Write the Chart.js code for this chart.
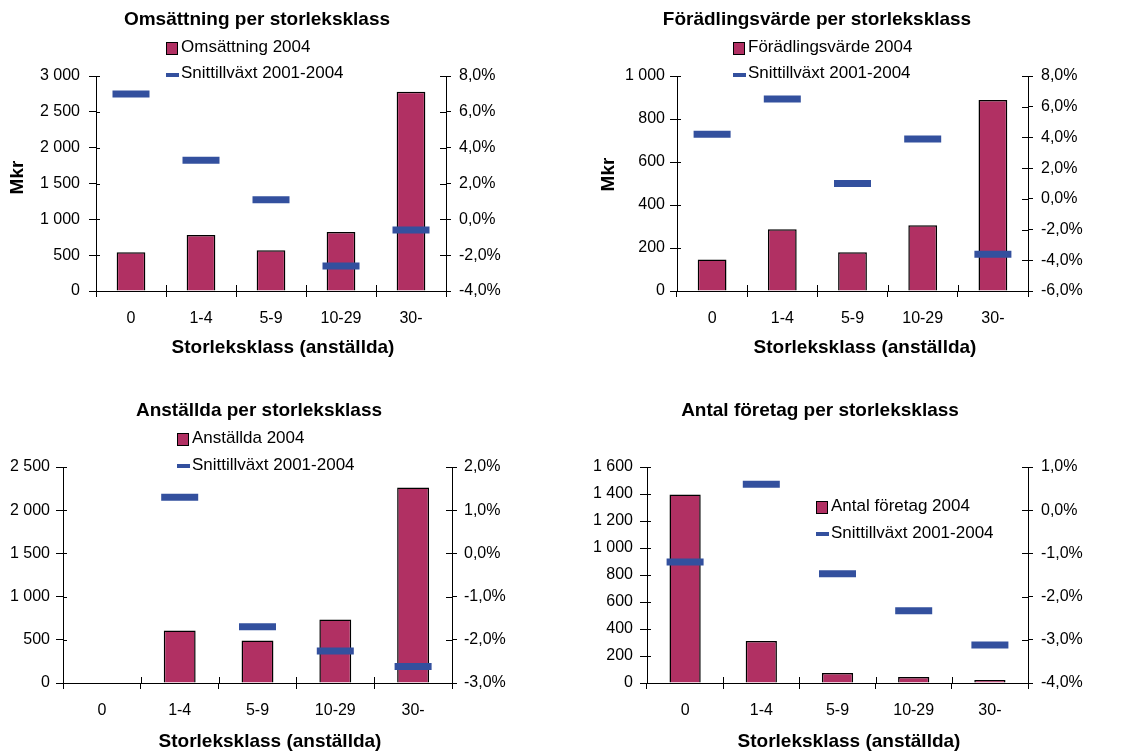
<!DOCTYPE html>
<html lang="sv">
<head>
<meta charset="utf-8">
<title>Per storleksklass</title>
<script src="https://cdn.jsdelivr.net/npm/chart.js@4.4.1/dist/chart.umd.min.js"></script>
<style>
  body { margin: 0; background: #fff; }
  #wrap { position: relative; width: 1135px; height: 756px; }
  canvas { position: absolute; }
</style>
</head>
<body>
<div id="wrap">
  <canvas id="c1" width="567" height="378" style="left:0;top:0"></canvas>
  <canvas id="c2" width="568" height="378" style="left:567px;top:0"></canvas>
  <canvas id="c3" width="567" height="378" style="left:0;top:378px"></canvas>
  <canvas id="c4" width="568" height="378" style="left:567px;top:378px"></canvas>
</div>
<script>
const categories = ["0", "1-4", "5-9", "10-29", "30-"];

const omsattning = [540, 781, 567, 823, 2780];
const omsattningVaxt = [7.0, 3.3, 1.1, -2.6, -0.6];

const foradling = [147, 287, 180, 306, 888];
const foradlingVaxt = [4.2, 6.5, 1.0, 3.9, -3.6];

const anstallda = [null, 607, 491, 735, 2264];
const anstalldaVaxt = [null, 1.3, -1.7, -2.26, -2.62];

const antalForetag = [1397, 312, 74, 45, 22];
const antalVaxt = [-1.2, 0.6, -1.47, -2.33, -3.12];

const BAR = "#B13063";
const DASH = "#33509E";
const FONT = "'Liberation Sans', Arial, sans-serif";

Chart.defaults.font.family = FONT;
Chart.defaults.color = "#000";

const thousands = v => String(v).replace(/\B(?=(\d{3})+(?!\d))/g, " ");
const percent = v => v.toFixed(1).replace(".", ",") + "%";

// titles, legend and the inner half of the tick marks
const overlay = {
    id: "overlay",
    afterDraw(chart, args, opts) {
        const ctx = chart.ctx;
        const area = chart.chartArea;
        ctx.save();

        ctx.strokeStyle = "#000";
        ctx.lineWidth = 1;
        ctx.beginPath();
        const yl = chart.scales.y, yr = chart.scales.y1;
        yl.ticks.forEach((t, i) => {
            const py = Math.round(yl.getPixelForTick(i)) + 0.5;
            ctx.moveTo(area.left, py);
            ctx.lineTo(area.left + 4, py);
        });
        yr.ticks.forEach((t, i) => {
            const py = Math.round(yr.getPixelForTick(i)) + 0.5;
            ctx.moveTo(area.right - 6, py);
            ctx.lineTo(area.right, py);
        });
        const n = categories.length;
        for (let i = 0; i <= n; i++) {
            const px = Math.round(area.left + i * area.width / n) + 0.5;
            ctx.moveTo(px, area.bottom);
            ctx.lineTo(px, area.bottom - 6);
        }
        ctx.stroke();

        const lg = opts.legend;
        const ds = chart.data.datasets;
        ctx.fillStyle = BAR;
        ctx.fillRect(lg.x, lg.boxY, 11, 12);
        ctx.strokeRect(lg.x + 0.5, lg.boxY + 0.5, 11, 12);
        ctx.fillStyle = DASH;
        ctx.fillRect(lg.x, lg.dashY, 13, 4);
        ctx.fillStyle = "#000";
        ctx.font = "17px " + FONT;
        ctx.textAlign = "left";
        ctx.textBaseline = "middle";
        ctx.fillText(ds[1].label, lg.x + 15, lg.textY1);
        ctx.fillText(ds[0].label, lg.x + 15, lg.textY2);

        ctx.font = "bold 19px " + FONT;
        ctx.textAlign = "center";
        opts.texts.forEach(t => {
            ctx.save();
            ctx.translate(t.x, t.y);
            if (t.rotate) ctx.rotate(-Math.PI / 2);
            ctx.fillText(t.text, 0, 0);
            ctx.restore();
        });
        ctx.restore();
    }
};

function makeChart(id, barLabel, bars, growth, s) {
    const canvas = document.getElementById(id);
    const W = canvas.width, H = canvas.height;
    const texts = [
        { text: s.title, x: s.titleX, y: s.titleY },
        { text: "Storleksklass (anställda)", x: s.xTitleX, y: s.xTitleY }
    ];
    if (s.mkrX) texts.push({ text: "Mkr", x: s.mkrX, y: s.mkrY, rotate: true });

    return new Chart(canvas, {
        type: "bar",
        plugins: [overlay],
        data: {
            labels: categories,
            datasets: [
                {
                    type: "line",
                    label: "Snittillväxt 2001-2004",
                    data: growth,
                    yAxisID: "y1",
                    showLine: false,
                    pointStyle: "line",
                    pointRadius: 18.5,
                    pointBorderWidth: 7,
                    pointBorderColor: DASH,
                    pointBackgroundColor: DASH,
                    order: 1
                },
                {
                    label: barLabel,
                    data: bars,
                    yAxisID: "y",
                    backgroundColor: BAR,
                    borderColor: "#000",
                    borderWidth: 1.5,
                    barPercentage: 0.41,
                    categoryPercentage: 1,
                    order: 2
                }
            ]
        },
        options: {
            responsive: false,
            animation: false,
            events: [],
            layout: { padding: { top: s.area.t, left: 0, right: 0, bottom: 0 } },
            plugins: {
                legend: { display: false },
                tooltip: { enabled: false },
                overlay: { legend: s.legend, texts: texts }
            },
            scales: {
                x: {
                    afterFit: sc => { sc.height = H - s.area.b; },
                    grid: { drawOnChartArea: false, color: "#000", tickLength: 6 },
                    border: { color: "#000" },
                    ticks: { font: { size: 16 }, padding: 12 }
                },
                y: {
                    position: "left",
                    min: 0,
                    max: s.leftMax,
                    afterFit: sc => { sc.width = s.area.l; },
                    grid: { drawOnChartArea: false, color: "#000", tickLength: 7 },
                    border: { color: "#000" },
                    ticks: { stepSize: s.leftStep, font: { size: 16 }, padding: s.leftPad, callback: thousands }
                },
                y1: {
                    position: "right",
                    min: s.rightMin,
                    max: s.rightMax,
                    afterFit: sc => { sc.width = W - s.area.r; },
                    grid: { drawOnChartArea: false, color: "#000", tickLength: 5 },
                    border: { color: "#000" },
                    ticks: { stepSize: s.rightStep, font: { size: 16 }, padding: s.rightPad, callback: percent }
                }
            }
        }
    });
}

makeChart("c1", "Omsättning 2004", omsattning, omsattningVaxt, {
    area: { l: 96, t: 76, r: 446, b: 291 },
    leftMax: 3000, leftStep: 500, leftPad: 9,
    rightMin: -4, rightMax: 8, rightStep: 2, rightPad: 8,
    title: "Omsättning per storleksklass", titleX: 257, titleY: 19.5,
    xTitleX: 283, xTitleY: 348,
    mkrX: 18, mkrY: 177.5,
    legend: { x: 166, boxY: 42, dashY: 73, textY1: 47, textY2: 73 }
});

makeChart("c2", "Förädlingsvärde 2004", foradling, foradlingVaxt, {
    area: { l: 110, t: 76, r: 461, b: 291 },
    leftMax: 1000, leftStep: 200, leftPad: 5,
    rightMin: -6, rightMax: 8, rightStep: 2, rightPad: 8,
    title: "Förädlingsvärde per storleksklass", titleX: 250, titleY: 19.5,
    xTitleX: 298, xTitleY: 348,
    mkrX: 42, mkrY: 174.5,
    legend: { x: 166, boxY: 42, dashY: 73, textY1: 47, textY2: 73 }
});

makeChart("c3", "Anställda 2004", anstallda, anstalldaVaxt, {
    area: { l: 63, t: 89, r: 452, b: 305 },
    leftMax: 2500, leftStep: 500, leftPad: 6,
    rightMin: -3, rightMax: 2, rightStep: 1, rightPad: 7,
    title: "Anställda per storleksklass", titleX: 259, titleY: 33,
    xTitleX: 270, xTitleY: 364,
    legend: { x: 177, boxY: 55, dashY: 86, textY1: 60.5, textY2: 87 }
});

makeChart("c4", "Antal företag 2004", antalForetag, antalVaxt, {
    area: { l: 80, t: 89, r: 461, b: 305 },
    leftMax: 1600, leftStep: 200, leftPad: 7,
    rightMin: -4, rightMax: 1, rightStep: 1, rightPad: 8,
    title: "Antal företag per storleksklass", titleX: 253, titleY: 33,
    xTitleX: 282, xTitleY: 364,
    legend: { x: 249, boxY: 123, dashY: 154, textY1: 128, textY2: 155 }
});
</script>
</body>
</html>
